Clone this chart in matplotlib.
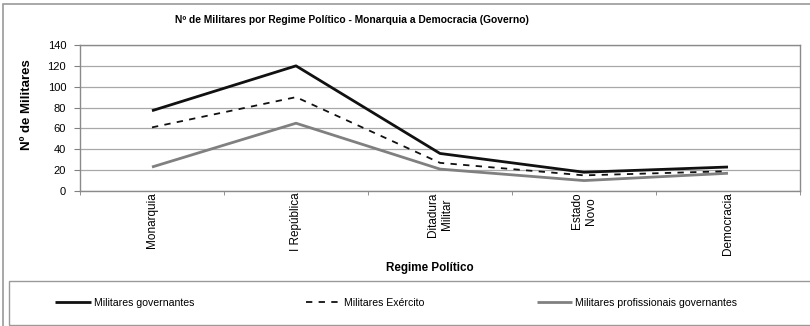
import matplotlib
matplotlib.use("Agg")
import matplotlib.pyplot as plt
from matplotlib.patches import Rectangle

plt.rcParams['font.family'] = ['Liberation Sans', 'DejaVu Sans']

# Data
regimes = ["Monarquia", "I República", "Ditadura\nMilitar", "Estado\nNovo", "Democracia"]
governantes = [77, 120, 36, 18, 23]
exercito = [61, 90, 27, 15, 19]
profissionais = [23, 65, 21, 10, 17]
yticks = [0, 20, 40, 60, 80, 100, 120, 140]

W, H = 810, 326
fig = plt.figure(figsize=(W / 100, H / 100), dpi=100)

# Outer chart border
fig.add_artist(Rectangle((3 / W, -0.01), 1.1, 1 - 4 / H + 0.01, transform=fig.transFigure,
                         fill=False, edgecolor="#9a9a9a", linewidth=1.2))

ax = fig.add_axes([80 / W, 1 - 191 / H, 720 / W, 146 / H])
x = [i + 0.5 for i in range(len(regimes))]

ax.plot(x, governantes, color="#111111", lw=2.0, solid_capstyle="butt",
        label="Militares governantes", zorder=3)
ax.plot(x, exercito, color="#111111", lw=1.3, dashes=(3.5, 3.5),
        label="Militares Exército", zorder=3)
ax.plot(x, profissionais, color="#808080", lw=2.0, solid_capstyle="butt",
        label="Militares profissionais governantes", zorder=2)

ax.set_xlim(0, 5)
ax.set_ylim(0, 140)
ax.set_yticks(yticks)
ax.set_yticklabels([str(v) for v in yticks], fontsize=8)
ax.grid(axis="y", color="#a8a8a8", lw=0.9)
ax.set_axisbelow(True)

ax.set_xticks(x)
ax.set_xticklabels(regimes, rotation=90, fontsize=8.5, va="top", ha="center",
                   multialignment="center")
ax.tick_params(axis="x", length=0, pad=1)
ax.set_xticks(range(0, 6), minor=True)
ax.tick_params(axis="x", which="minor", length=3, color="#808080", direction="out")
ax.tick_params(axis="y", length=4, color="#808080", pad=6)

for s in ax.spines.values():
    s.set_color("#8a8a8a")
    s.set_linewidth(1.0)

ax.set_ylabel("Nº de Militares", fontsize=9.5, fontweight="bold")
ax.yaxis.set_label_coords(-(80 - 33) / 720, (191 - 104.5) / 146)
fig.text(430 / W, 1 - 268 / H, "Regime Político", fontsize=8.4, fontweight="bold",
         ha="center", va="center")
fig.text(352 / W, 1 - 20 / H,
         "Nº de Militares por Regime Político - Monarquia a Democracia (Governo)",
         fontsize=7.4, fontweight="bold", ha="center", va="center")

# Legend box
fig.add_artist(Rectangle((9 / W, 1 - 325 / H), 1.1, 44 / H, transform=fig.transFigure,
                         fill=False, edgecolor="#9a9a9a", linewidth=1.0))
handles, labels = ax.get_legend_handles_labels()
leg = fig.legend(handles, labels, loc="center left", bbox_to_anchor=(55 / W, 1 - 303 / H),
                 ncol=3, frameon=False, fontsize=7.6, handlelength=3.4, handletextpad=0.25,
                 columnspacing=10.6, borderaxespad=0, borderpad=0)

fig.savefig("out.png", dpi=100)
